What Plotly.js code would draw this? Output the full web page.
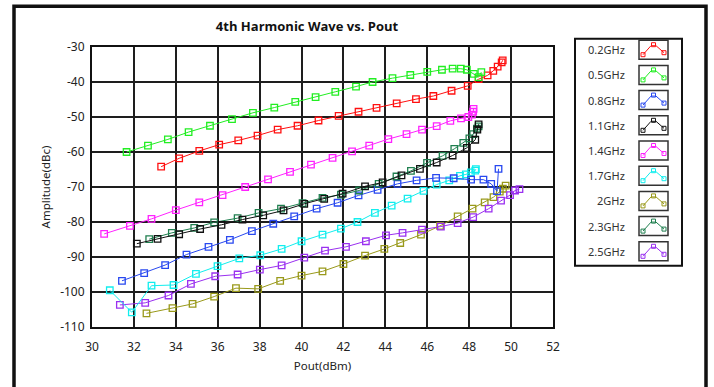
<!DOCTYPE html>
<html><head><meta charset="utf-8">
<script src="https://cdn.plot.ly/plotly-3.0.1.min.js"></script>
<style>html,body{margin:0;padding:0;background:#fff}#c{width:714px;height:387px}</style>
</head><body><div id="c"></div>
<script>
const seriesNames = ["0.2GHz","0.5GHz","0.8GHz","1.1GHz","1.4GHz","1.7GHz","2GHz","2.3GHz","2.5GHz"];
const seriesColors = ["#ff1010","#22ee22","#2848f0","#111111","#ff22ff","#11eeee","#99991a","#1f7f4f","#9a30f0"];

const x02 = [33.3,34.16,35.12,36.07,36.98,37.9,38.86,39.81,40.81,41.77,42.72,43.58,44.54,45.46,46.29,47.16,47.93,48.45,48.88,49.15,49.36,49.55,49.6];
const y02 = [-64.2,-61.8,-59.7,-57.9,-56.7,-55.3,-53.6,-52.5,-51.0,-49.7,-48.5,-47.4,-46.1,-44.9,-44.0,-42.5,-41.1,-39.2,-38.1,-36.8,-35.6,-34.4,-33.8];

const x05 = [31.65,32.67,33.62,34.61,35.63,36.68,37.68,38.7,39.7,40.67,41.61,42.6,43.39,44.34,45.19,46.0,46.7,47.21,47.6,47.89,48.22,48.45,48.58];
const y05 = [-60.0,-58.2,-56.4,-54.3,-52.5,-50.6,-48.8,-47.3,-45.7,-44.3,-42.8,-41.3,-40.0,-38.9,-38.0,-37.1,-36.5,-36.2,-36.2,-36.5,-37.7,-38.6,-37.2];

const x08 = [31.43,32.49,33.49,34.51,35.56,36.58,37.63,38.65,39.65,40.72,41.72,42.72,43.63,44.58,45.49,46.42,47.26,48.09,48.68,49.05,49.33,49.4];
const y08 = [-96.8,-94.6,-92.3,-89.3,-87.1,-85.1,-82.6,-80.5,-78.4,-76.2,-74.5,-72.4,-70.8,-69.1,-68.1,-67.4,-67.5,-67.9,-67.9,-69.1,-71.2,-64.8];

const x11 = [32.14,33.13,34.16,35.16,36.18,37.18,38.17,39.14,40.13,41.08,41.96,43.03,43.87,44.77,45.65,46.45,47.21,47.89,48.29,48.39,48.45];
const y11 = [-86.2,-84.8,-83.5,-82.0,-80.8,-79.3,-78.1,-76.7,-74.8,-73.4,-71.9,-69.8,-68.7,-66.7,-64.8,-63.0,-61.0,-58.8,-56.5,-53.6,-52.1];

const x14 = [30.58,31.81,32.84,34.0,35.12,36.23,37.31,38.4,39.45,40.45,41.48,42.41,43.23,44.14,45.01,45.75,46.45,47.1,47.61,47.96,48.13,48.19,48.21];
const y14 = [-83.4,-81.1,-79.1,-76.6,-74.4,-72.3,-70.0,-67.8,-65.7,-63.6,-61.7,-59.8,-58.2,-56.3,-54.9,-53.6,-52.6,-51.1,-50.4,-50.0,-49.3,-48.5,-47.7];

const x17 = [30.85,31.9,32.84,33.89,34.96,35.99,37.03,38.03,39.05,40.0,41.0,41.88,42.67,43.5,44.3,45.06,45.82,46.45,47.05,47.56,47.84,48.08,48.29,48.32];
const y17 = [-99.5,-105.8,-98.2,-98.0,-94.8,-92.6,-90.4,-89.5,-87.7,-85.5,-83.6,-81.9,-80.0,-77.4,-75.3,-73.3,-71.1,-69.3,-68.1,-66.8,-66.4,-65.8,-65.3,-64.9];

const x20 = [32.6,33.84,34.8,35.83,36.87,37.93,38.98,40.0,41.0,42.0,43.03,43.95,44.71,45.7,46.61,47.45,48.16,48.74,49.16,49.46,49.61,49.74];
const y20 = [-106.1,-104.6,-103.4,-101.3,-98.9,-99.1,-96.8,-95.3,-94.1,-92.0,-89.6,-87.7,-86.0,-83.6,-81.1,-78.4,-76.2,-74.4,-72.9,-71.3,-70.5,-69.6];

const x23 = [32.73,33.81,34.88,35.83,36.95,37.95,39.02,40.05,41.0,41.88,42.75,43.68,44.53,45.22,45.99,46.73,47.29,47.72,48.01,48.19,48.37,48.45];
const y23 = [-84.9,-83.1,-81.7,-80.1,-78.9,-77.4,-76.2,-74.6,-73.1,-72.2,-71.0,-69.1,-67.0,-65.4,-63.1,-61.1,-59.1,-57.4,-56.1,-54.9,-53.3,-52.7];

const x25 = [31.33,32.54,33.65,34.72,35.88,36.95,38.01,39.05,40.13,41.12,42.12,43.07,44.03,44.82,45.75,46.65,47.45,48.19,48.93,49.52,49.95,50.19,50.4];
const y25 = [-103.7,-103.1,-101.0,-97.7,-95.5,-95.0,-93.6,-92.4,-90.2,-88.2,-87.1,-85.5,-83.8,-83.1,-82.2,-81.3,-80.3,-78.6,-76.2,-73.9,-72.3,-71.0,-70.6];

const xs = [x02,x05,x08,x11,x14,x17,x20,x23,x25];
const ys = [y02,y05,y08,y11,y14,y17,y20,y23,y25];

const xTicks = [30,32,34,36,38,40,42,44,46,48,50,52];
const yTicks = [-30,-40,-50,-60,-70,-80,-90,-100,-110];

// draw order: bottom to top
const order = [6,8,5,2,7,3,4,0,1];
const traces = order.map(i => ({
  type:'scatter', mode:'lines+markers', name:seriesNames[i],
  x: xs[i], y: ys[i],
  line:{color:seriesColors[i], width:1},
  marker:{symbol:'square-open', size:6.5, color:seriesColors[i], line:{width:1.3}},
  showlegend:false, cliponaxis:false
}));

// pixel layout helpers (paper coordinates)
const L=92, R=553, T=47.3, B=327.3;
const px = p => (p-L)/(R-L);
const py = p => (B-p)/(B-T);

const shapes = [];
const annotations = [];
// outer frame
shapes.push({type:'rect', xref:'paper', yref:'paper', x0:px(14), x1:px(706), y0:py(400), y1:py(6.5), line:{color:'#111', width:3.5}, fillcolor:'rgba(0,0,0,0)', layer:'below'});
// legend box
shapes.push({type:'rect', xref:'paper', yref:'paper', x0:px(575), x1:px(682), y0:py(266), y1:py(39), line:{color:'#111', width:2}, fillcolor:'#fff'});
seriesNames.forEach((n,i) => {
  const cy = 50 + i*25.2;
  annotations.push({xref:'paper', yref:'paper', x:px(627), y:py(cy), xanchor:'right', yanchor:'middle', text:n, showarrow:false, font:{family:'Noto Sans, sans-serif', size:11, color:'#333'}});
  const bx0=639, bx1=668, by0=cy-9.5, by1=cy+9.5;
  shapes.push({type:'rect', xref:'paper', yref:'paper', x0:px(bx0), x1:px(bx1), y0:py(by1), y1:py(by0), line:{color:'#333', width:1.5}, fillcolor:'#fff'});
  const pts = [[643,cy+5],[651,cy-4],[656,cy-4],[664,cy+3]];
  const path = 'M' + pts.map(p => px(p[0]) + ',' + py(p[1])).join(' L');
  shapes.push({type:'path', xref:'paper', yref:'paper', path:path, line:{color:seriesColors[i], width:1}});
  [[643,cy+5],[653.5,cy-5],[664,cy+3]].forEach(p => {
    shapes.push({type:'rect', xref:'paper', yref:'paper', x0:px(p[0]-2), x1:px(p[0]+2), y0:py(p[1]+2), y1:py(p[1]-2), line:{color:seriesColors[i], width:1}, fillcolor:'rgba(0,0,0,0)'});
  });
});

const layout = {
  width:714, height:387,
  margin:{l:L, r:714-R, t:T, b:387-B, pad:0},
  paper_bgcolor:'#fff', plot_bgcolor:'#fff',
  title:{text:'<b>4th Harmonic Wave vs. Pout</b>', x:px(307), xref:'paper', xanchor:'center', y:1-26/387, yref:'container', yanchor:'middle', font:{family:'Open Sans, sans-serif', size:13, color:'#111'}},
  xaxis:{range:[30,52], tickvals:xTicks, ticktext:xTicks.map(String), showgrid:true, gridcolor:'#1e1e1e', gridwidth:2,
    showline:true, linecolor:'#111', linewidth:2, mirror:true, zeroline:false, ticks:'', ticklabelstandoff:8,
    tickfont:{family:'Noto Sans, sans-serif', size:12, color:'#222'},
    title:{text:'Pout(dBm)', standoff:8, font:{family:'Noto Sans, sans-serif', size:11.5, color:'#222'}}},
  yaxis:{range:[-110,-30], tickvals:yTicks, ticktext:yTicks.map(String), showgrid:true, gridcolor:'#1e1e1e', gridwidth:2,
    showline:true, linecolor:'#111', linewidth:2, mirror:true, zeroline:false, ticks:'', ticklabelstandoff:3,
    tickfont:{family:'Noto Sans, sans-serif', size:12, color:'#222'},
    title:{text:'Amplitude(dBc)', standoff:7, font:{family:'Noto Sans, sans-serif', size:11.5, color:'#222'}}},
  shapes:shapes, annotations:annotations, showlegend:false
};
Plotly.newPlot('c', traces, layout, {staticPlot:true, displayModeBar:false});
</script></body></html>
